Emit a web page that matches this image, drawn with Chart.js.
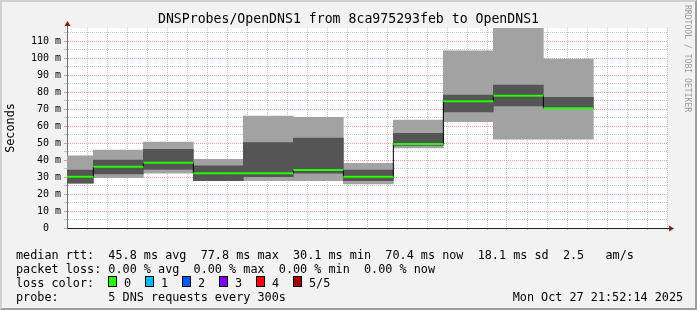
<!DOCTYPE html>
<html>
<head>
<meta charset="utf-8">
<script src="https://cdn.jsdelivr.net/npm/chart.js@4/dist/chart.umd.min.js"></script>
<style>
  html, body { margin: 0; padding: 0; background: #f2f2f2; }
  #wrap { position: relative; width: 697px; height: 310px; overflow: hidden; background: #f2f2f2; }
  #c { position: absolute; left: 0; top: 0; }
  .t { position: absolute; font-family: 'DejaVu Sans Mono', monospace; font-size: 11.8px; line-height: 14px; white-space: pre; color: #000; }
  .box { position: absolute; width: 9px; height: 11px; box-sizing: border-box; border: 1px solid #000; }
  #mark { position: absolute; left: 684px; top: 5px; font-family: 'DejaVu Sans Mono', monospace; font-size: 8.1px; line-height: 8px; writing-mode: vertical-rl; white-space: pre; color: #9a9a9a; }
  #frame { position: absolute; left: 0; top: 0; width: 697px; height: 310px; box-sizing: border-box;
           border-top: 2px solid #cfcfcf; border-left: 2px solid #cfcfcf; border-right: 2px solid #9e9e9e; border-bottom: 2px solid #9e9e9e; pointer-events: none; }
</style>
</head>
<body>
<div id="wrap">
  <canvas id="c" width="697" height="310"></canvas>
  <div id="mark">RRDTOOL / TOBI OETIKER</div>
  <div id="frame"></div>
</div>
<script>
// ---- data ----
const titleText = 'DNSProbes/OpenDNS1 from 8ca975293feb to OpenDNS1';
const intervalStarts = ['20:50','20:55','21:00','21:05','21:10','21:15','21:20','21:25','21:30','21:35','21:40'];
const stepMinutes = 5;
const pingMin   = [26.3, 29.6, 32.2, 27.8, 27.8, 27.8, 25.9, 47.1, 62.5, 52.2, 52.2];
const ping2     = [26.3, 31.8, 34.5, 27.8, 30.2, 32.2, 27.8, 48.6, 68.3, 71.8, 70.4];
const medianRtt = [30.1, 36.1, 38.4, 32.2, 32.2, 34.1, 30.2, 49.4, 74.6, 77.8, 70.4];
const ping4     = [34.1, 40.0, 46.3, 36.5, 50.2, 52.9, 34.1, 55.7, 78.2, 84.1, 76.9];
const pingMax   = [42.4, 45.9, 50.6, 40.4, 65.9, 65.1, 38.0, 63.5, 104.2, 118.0, 99.4];
const viewStart = '20:52:22';
const viewEnd   = '21:52:22';
const yMax = 117.65;
const yTickStep = 5, yLabelStep = 10;
const xTickStep = 2, xLabelStep = 10;
const statsRtt  = ['45.8 ms avg', '77.8 ms max', '30.1 ms min', '70.4 ms now', '18.1 ms sd', '2.5   am/s'];
const statsLoss = ['0.00 % avg', '0.00 % max', '0.00 % min', '0.00 % now'];
const lossLabels = ['0', '1', '2', '3', '4', '5/5'];
const lossColors = ['#26ff00', '#00b8ff', '#0059ff', '#7e00ff', '#ff0000', '#a10000'];
const probeText = '5 DNS requests every 300s';
const stampText = 'Mon Oct 27 21:52:14 2025';

// ---- helpers ----
const toMin = s => { const p = s.split(':').map(Number); return p[0] * 60 + p[1] + (p[2] || 0) / 60; };
const fmtTime = v => { const h = Math.floor(v / 60), m = Math.round(v - h * 60); return h + ':' + String(m).padStart(2, '0'); };
const MONO = "'DejaVu Sans Mono', monospace";
const minorGrid = 'rgba(143,143,143,0.5)';
const majorGrid = 'rgba(222,79,79,0.55)';
const isMult = (v, step) => Math.abs(v / step - Math.round(v / step)) < 1e-6;

const starts = intervalStarts.map(toMin);
const lightData = starts.map((t, i) => ({ x: t + stepMinutes / 2, y: [pingMin[i], pingMax[i]] }));
const darkData  = starts.map((t, i) => ({ x: t + stepMinutes / 2, y: [ping2[i], ping4[i]] }));
const greenData = starts.flatMap((t, i) => [
  { x: t, y: medianRtt[i] }, { x: t + stepMinutes, y: medianRtt[i] }, { x: t + stepMinutes, y: null }
]);
const stepData = starts.map((t, i) => ({ x: t, y: medianRtt[i] }))
  .concat([{ x: starts[starts.length - 1] + stepMinutes, y: medianRtt[medianRtt.length - 1] }]);

// ---- plugins ----
const plotBg = {
  id: 'plotBg',
  beforeDraw(chart) {
    const { ctx, chartArea: a } = chart;
    ctx.save(); ctx.fillStyle = '#ffffff';
    ctx.fillRect(a.left, a.top, a.right - a.left, a.bottom - a.top);
    ctx.restore();
  }
};
const arrows = {
  id: 'arrows',
  afterDraw(chart) {
    const { ctx, chartArea: a } = chart;
    const bx = Math.round(a.bottom) + 0.5, lx = Math.round(a.left) + 0.5;
    ctx.save();
    ctx.lineWidth = 1;
    ctx.strokeStyle = '#1f1f1f';
    ctx.beginPath(); ctx.moveTo(a.right, bx); ctx.lineTo(a.right + 3, bx); ctx.stroke();
    ctx.strokeStyle = '#6e6e6e';
    ctx.beginPath(); ctx.moveTo(lx, a.top); ctx.lineTo(lx, a.top - 3); ctx.stroke();
    ctx.fillStyle = '#801f1f';
    ctx.beginPath(); ctx.moveTo(a.right + 2, bx - 3); ctx.lineTo(a.right + 7, bx); ctx.lineTo(a.right + 2, bx + 3); ctx.closePath(); ctx.fill();
    ctx.beginPath(); ctx.moveTo(lx - 3, a.top - 2); ctx.lineTo(lx, a.top - 7); ctx.lineTo(lx + 3, a.top - 2); ctx.closePath(); ctx.fill();
    ctx.restore();
  }
};

function build() {
  const ctx = document.getElementById('c').getContext('2d');
  new Chart(ctx, {
    type: 'bar',
    data: {
      datasets: [
        { type: 'line', data: greenData, borderColor: lossColors[0], borderWidth: 2, pointRadius: 0, spanGaps: false, clip: 0, order: 0 },
        { type: 'line', data: stepData, borderColor: '#000000', borderWidth: 1, stepped: 'before', pointRadius: 0, clip: 0, order: 1 },
        { type: 'bar', data: darkData, backgroundColor: '#555555', stack: 'smoke', barThickness: 'flex',
          barPercentage: 1, categoryPercentage: 1, clip: 0, order: 2 },
        { type: 'bar', data: lightData, backgroundColor: '#a2a2a2', stack: 'smoke', barThickness: 'flex',
          barPercentage: 1, categoryPercentage: 1, clip: 0, order: 3 }
      ]
    },
    options: {
      responsive: false,
      animation: false,
      devicePixelRatio: 1,
      events: [],
      layout: { padding: 0 },
      plugins: {
        legend: { display: false },
        tooltip: { enabled: false },
        title: {
          display: true, text: titleText, color: '#000',
          font: { family: MONO, size: 13.2, weight: 'normal' },
          padding: { top: 11.6, bottom: 0.56 }
        }
      },
      scales: {
        x: {
          type: 'linear', min: toMin(viewStart), max: toMin(viewEnd), offset: false, stacked: true, z: 1,
          grid: {
            offset: false, lineWidth: 1, tickLength: 2,
            color: c => (c.tick && isMult(c.tick.value, xLabelStep)) ? majorGrid : minorGrid,
            tickColor: c => (c.tick && isMult(c.tick.value, xLabelStep)) ? majorGrid : minorGrid
          },
          border: { color: '#1f1f1f', width: 1, dash: [1, 1] },
          ticks: {
            stepSize: xTickStep, includeBounds: false, autoSkip: false, maxRotation: 0, minRotation: 0,
            padding: 2, color: '#000', font: { family: MONO, size: 10 },
            callback: v => isMult(v, xLabelStep) ? fmtTime(v) : ''
          },
          afterFit: s => { s.height = 82; }
        },
        y: {
          type: 'linear', min: 0, max: yMax, stacked: false, z: 1,
          grid: {
            lineWidth: 1, tickLength: 3,
            color: c => (c.tick && isMult(c.tick.value, yLabelStep)) ? majorGrid : minorGrid,
            tickColor: c => (c.tick && isMult(c.tick.value, yLabelStep)) ? majorGrid : minorGrid
          },
          border: { color: '#6e6e6e', width: 1, dash: [1, 1] },
          ticks: {
            stepSize: yTickStep, includeBounds: false, autoSkip: false,
            padding: 3, color: '#000', font: { family: MONO, size: 10 },
            callback: v => isMult(v, yLabelStep) ? (v === 0 ? '0  ' : Math.round(v) + ' m') : ''
          },
          title: { display: true, text: 'Seconds', color: '#000', font: { family: MONO, size: 11.8 }, padding: { top: 4, bottom: 0 } },
          afterFit: s => { s.width = 67; }
        },
        // empty right-hand spacer so the title stays centred on the whole image
        ySpacer: {
          type: 'linear', position: 'right', display: true,
          grid: { display: false, drawOnChartArea: false },
          border: { display: false },
          ticks: { display: false },
          afterFit: s => { s.width = 30; }
        }
      }
    },
    plugins: [plotBg, arrows]
  });

  // ---- legend text (real DOM text) ----
  const wrap = document.getElementById('wrap');
  const frame = document.getElementById('frame');
  const add = (cls, left, top, text, color) => {
    const d = document.createElement('div');
    d.className = cls; d.style.left = left + 'px'; d.style.top = top + 'px';
    if (text !== undefined) d.textContent = text;
    if (color) d.style.background = color;
    wrap.insertBefore(d, frame);
    return d;
  };
  const lineTop = [247.9, 261.9, 275.9, 289.9];
  add('t', 16, lineTop[0], 'median rtt:  ' + statsRtt.join('  '));
  add('t', 16, lineTop[1], 'packet loss: ' + statsLoss.join('  '));
  add('t', 16, lineTop[2], 'loss color:');
  lossLabels.forEach((lab, i) => {
    add('box', 108.3 + i * 37, 276, undefined, lossColors[i]);
    add('t', 124 + i * 37, lineTop[2], lab);
  });
  add('t', 16, lineTop[3], 'probe:       ' + probeText);
  add('t', 512.7, lineTop[3], stampText);
}

if (document.fonts && document.fonts.ready) { document.fonts.ready.then(build); } else { build(); }
</script>
</body>
</html>
